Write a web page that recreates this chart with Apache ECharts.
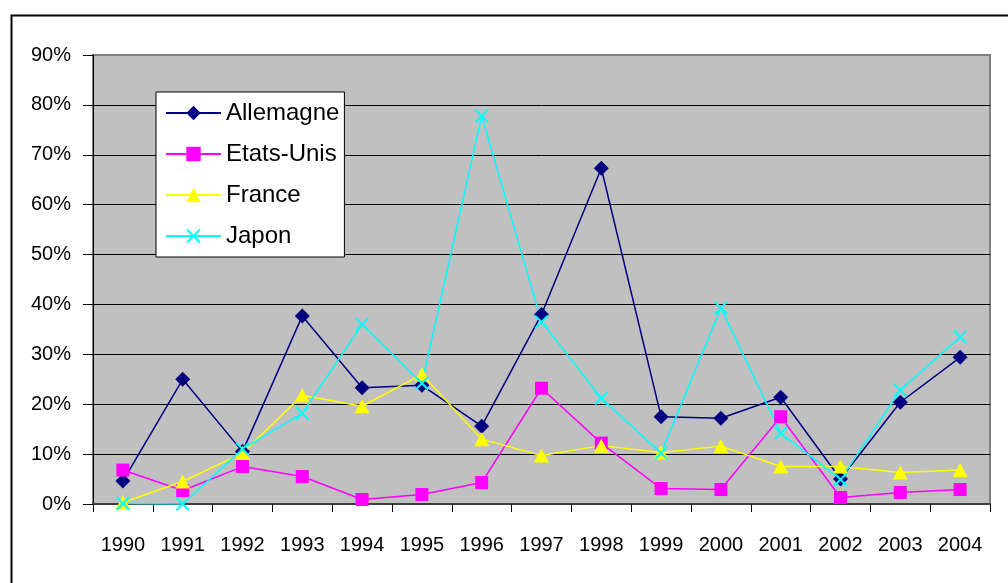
<!DOCTYPE html>
<html>
<head>
<meta charset="utf-8">
<script src="https://cdn.jsdelivr.net/npm/echarts@6/dist/echarts.min.js"></script>
<style>
html,body{margin:0;padding:0;background:#fff;}
#chart{width:1008px;height:583px;}
</style>
</head>
<body>
<div id="chart"></div>
<script>
var years = ['1990','1991','1992','1993','1994','1995','1996','1997','1998','1999','2000','2001','2002','2003','2004'];
var allemagne = [0.046,0.250,0.105,0.377,0.233,0.238,0.156,0.380,0.673,0.175,0.172,0.214,0.050,0.204,0.294];
var etatsUnis = [0.068,0.027,0.075,0.055,0.009,0.019,0.043,0.232,0.122,0.031,0.029,0.175,0.013,0.023,0.029];
var france    = [0.003,0.045,0.102,0.218,0.196,0.260,0.130,0.097,0.117,0.103,0.116,0.075,0.075,0.063,0.068];
var japon     = [0.001,0.000,0.110,0.182,0.360,0.242,0.778,0.365,0.212,0.102,0.393,0.142,0.049,0.228,0.335];
var yTicks = [0,0.1,0.2,0.3,0.4,0.5,0.6,0.7,0.8,0.9];

var xSymbol = 'path://M0,1L1,0L5,4L9,0L10,1L6,5L10,9L9,10L5,6L1,10L0,9L4,5Z';
var font = '"Liberation Sans", Arial, sans-serif';

function mk(name, data, color, symbol, size) {
  return {
    name: name, type: 'line', data: data,
    symbol: symbol, symbolSize: size,
    lineStyle: {color: color, width: 1.5},
    itemStyle: {color: color},
    emphasis: {disabled: true},
    animation: false
  };
}

var chart = echarts.init(document.getElementById('chart'));
chart.setOption({
  animation: false,
  backgroundColor: '#ffffff',
  graphic: [{
    type: 'rect', left: 9, top: 13, z: -1,
    shape: {width: 1100, height: 700},
    style: {fill: 'none', stroke: '#000', lineWidth: 2}
  }],
  grid: {
    left: 93, right: 18, top: 55, bottom: 79,
    show: true, backgroundColor: '#C0C0C0', borderColor: '#808080', borderWidth: 2
  },
  legend: {
    orient: 'vertical', left: 156, top: 92,
    backgroundColor: '#fff', borderColor: '#000', borderWidth: 1,
    padding: [9, 5, 9, 9], itemGap: 17,
    itemWidth: 55, itemHeight: 18,
    textStyle: {fontFamily: font, fontSize: 24, color: '#000'},
    data: ['Allemagne','Etats-Unis','France','Japon']
  },
  xAxis: {
    type: 'category', data: years, boundaryGap: true,
    axisLine: {lineStyle: {color: '#404040', width: 2}},
    axisTick: {show: true, length: 8, lineStyle: {color: '#000'}},
    axisLabel: {fontFamily: font, fontSize: 20, color: '#000', margin: 31, interval: 0},
    splitLine: {show: false}
  },
  yAxis: {
    type: 'value', min: 0, max: 0.9, interval: 0.1,
    axisLine: {show: true, lineStyle: {color: '#000', width: 1}},
    axisTick: {show: true, length: 10, lineStyle: {color: '#000'}},
    axisLabel: {
      fontFamily: font, fontSize: 20, color: '#000', margin: 22,
      formatter: function (v) {
        for (var i = 0; i < yTicks.length; i++) {
          if (Math.abs(yTicks[i] - v) < 1e-9) return Math.round(yTicks[i] * 100) + '%';
        }
        return '';
      }
    },
    splitLine: {show: true, showMaxLine: false, showMinLine: false, lineStyle: {color: '#000', width: 1}}
  },
  series: [
    mk('Allemagne', allemagne, '#000080', 'diamond', [15, 15]),
    mk('Etats-Unis', etatsUnis, '#FF00FF', 'rect', [13, 13]),
    mk('France', france, '#FFFF00', 'triangle', [15, 14]),
    mk('Japon', japon, '#00FFFF', xSymbol, [14, 14])
  ]
});
</script>
</body>
</html>
